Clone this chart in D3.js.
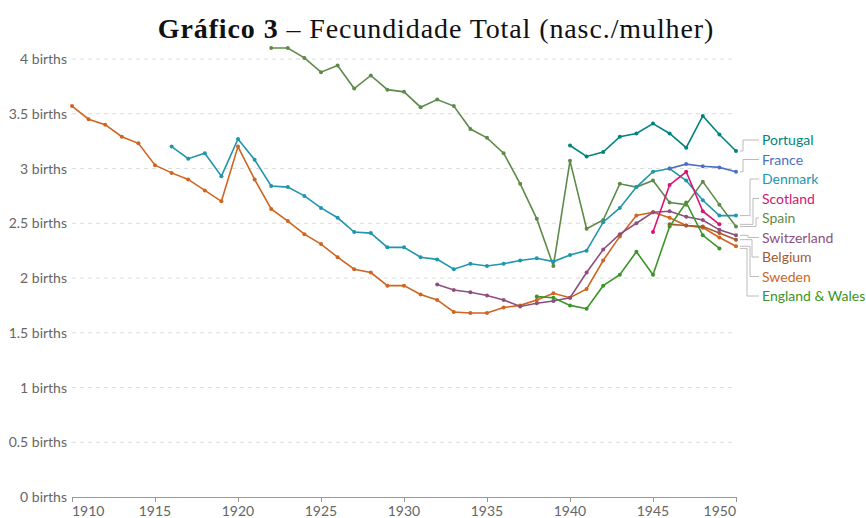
<!DOCTYPE html>
<html>
<head>
<meta charset="utf-8">
<script src="https://cdn.jsdelivr.net/npm/d3@7"></script>
<style>
  body { margin: 0; background: #fff; }
  text { font-family: Lato, "Open Sans", sans-serif; }
</style>
</head>
<body>
<script>
// values (children per woman)
var portugalYears = [1940,1941,1942,1943,1944,1945,1946,1947,1948,1949,1950];
var portugalVals  = [3.21,3.11,3.15,3.29,3.32,3.41,3.32,3.19,3.48,3.31,3.16];

var franceYears = [1946,1947,1948,1949,1950];
var franceVals  = [3.00,3.04,3.02,3.01,2.97];

var denmarkYears = d3.range(1916, 1951);
var denmarkVals  = [3.20,3.09,3.14,2.93,3.27,3.08,2.84,2.83,2.75,2.64,2.55,2.42,2.41,2.28,2.28,
                    2.19,2.17,2.08,2.13,2.11,2.13,2.16,2.18,2.15,2.21,2.25,2.51,2.64,2.83,2.97,
                    3.00,2.89,2.71,2.57,2.57];

var scotlandYears = [1945,1946,1947,1948,1949];
var scotlandVals  = [2.42,2.85,2.97,2.61,2.49];

var spainYears = d3.range(1922, 1951);
var spainVals  = [4.10,4.10,4.01,3.88,3.94,3.73,3.85,3.72,3.70,3.56,3.63,3.57,3.36,3.28,3.14,
                  2.86,2.54,2.11,3.07,2.45,2.53,2.86,2.83,2.89,2.69,2.67,2.88,2.67,2.47];

var switzerlandYears = d3.range(1932, 1951);
var switzerlandVals  = [1.94,1.89,1.87,1.84,1.80,1.74,1.77,1.79,1.82,2.05,2.26,2.40,2.50,2.60,
                        2.61,2.56,2.53,2.44,2.39];

var belgiumYears = [1946,1947,1948,1949,1950];
var belgiumVals  = [2.49,2.48,2.47,2.41,2.35];

var swedenYears = d3.range(1910, 1951);
var swedenVals  = [3.57,3.45,3.40,3.29,3.23,3.03,2.96,2.90,2.80,2.70,3.20,2.90,2.63,2.52,2.40,
                   2.31,2.19,2.08,2.05,1.93,1.93,1.85,1.80,1.69,1.68,1.68,1.73,1.75,1.80,1.86,
                   1.82,1.90,2.16,2.38,2.57,2.60,2.55,2.48,2.46,2.37,2.29];

var englandYears = d3.range(1938, 1950);
var englandVals  = [1.83,1.82,1.75,1.72,1.93,2.03,2.24,2.03,2.47,2.69,2.39,2.27];

var countries = ["Portugal","France","Denmark","Scotland","Spain","Switzerland","Belgium","Sweden","England & Wales"];
var colors    = ["#00847e","#4c6fc4","#1f96ab","#d81472","#5f8a4a","#8c4f80","#a35a2e","#cf6520","#3a9528"];

var yTicks = [0,0.5,1,1.5,2,2.5,3,3.5,4];
var xTicks = [1910,1915,1920,1925,1930,1935,1940,1945,1950];

var series = [
  [portugalYears, portugalVals],
  [franceYears, franceVals],
  [denmarkYears, denmarkVals],
  [scotlandYears, scotlandVals],
  [spainYears, spainVals],
  [switzerlandYears, switzerlandVals],
  [belgiumYears, belgiumVals],
  [swedenYears, swedenVals],
  [englandYears, englandVals]
].map(function(s, i) {
  return {
    name: countries[i],
    color: colors[i],
    values: s[0].map(function(y, j) { return {year: y, v: s[1][j]}; })
  };
});

var W = 866, H = 518;
var svg = d3.select("body").append("svg").attr("width", W).attr("height", H);

var xScale = d3.scaleLinear().domain([1910, 1950]).range([72, 736]);
var yScale = d3.scaleLinear().domain([0, 4]).range([497, 59]);

// title
var title = svg.append("text")
  .attr("x", 436).attr("y", 38)
  .attr("text-anchor", "middle")
  .style("font-family", "'Liberation Serif', 'DejaVu Serif', serif")
  .style("font-size", "28px")
  .style("letter-spacing", "0.9px")
  .attr("fill", "#111");
title.append("tspan").style("font-weight", "bold").text("Gráfico 3");
title.append("tspan").text(" – Fecundidade Total (nasc./mulher)");

// gridlines + y labels
svg.selectAll(".grid").data(yTicks.filter(function(d) { return d > 0; })).enter()
  .append("line")
  .attr("x1", 72).attr("x2", 736)
  .attr("y1", function(d) { return yScale(d); })
  .attr("y2", function(d) { return yScale(d); })
  .attr("stroke", "#dcdcdc")
  .attr("stroke-dasharray", "4,4");

svg.selectAll(".ylab").data(yTicks).enter()
  .append("text")
  .attr("x", 67)
  .attr("y", function(d) { return yScale(d) + 5; })
  .attr("text-anchor", "end")
  .attr("fill", "#666")
  .style("font-size", "14px")
  .text(function(d) { return d + " births"; });

// x axis
svg.append("line")
  .attr("x1", 72).attr("x2", 737)
  .attr("y1", 497.5).attr("y2", 497.5)
  .attr("stroke", "#999");

svg.selectAll(".xtick").data(xTicks).enter()
  .append("line")
  .attr("x1", function(d) { return xScale(d) + 0.5; })
  .attr("x2", function(d) { return xScale(d) + 0.5; })
  .attr("y1", 497).attr("y2", 502)
  .attr("stroke", "#999");

svg.selectAll(".xlab").data(xTicks).enter()
  .append("text")
  .attr("x", function(d) { return xScale(d); })
  .attr("y", 516)
  .attr("text-anchor", function(d, i) { return i === 0 ? "start" : (i === xTicks.length - 1 ? "end" : "middle"); })
  .attr("fill", "#666")
  .style("font-size", "14px")
  .text(function(d) { return d; });

// lines
var line = d3.line()
  .x(function(d) { return xScale(d.year); })
  .y(function(d) { return yScale(d.v); });

// draw in back-to-front order
var drawOrder = [7, 6, 5, 8, 4, 2, 1, 3, 0];
drawOrder.forEach(function(i) {
  var s = series[i];
  var g = svg.append("g");
  g.append("path")
    .attr("d", line(s.values))
    .attr("fill", "none")
    .attr("stroke", s.color)
    .attr("stroke-width", 1.6);
  g.selectAll("circle").data(s.values).enter()
    .append("circle")
    .attr("cx", function(d) { return xScale(d.year); })
    .attr("cy", function(d) { return yScale(d.v); })
    .attr("r", 2)
    .attr("fill", s.color);
});

// legend labels with connectors
var labelX = 762, labelY0 = 140, labelStep = 19.5;
var stepX = [743, 743, 750, 753, 756, 748, 752, 750, 747];
series.forEach(function(s, i) {
  var last = s.values[s.values.length - 1];
  var ly = labelY0 + i * labelStep;
  var ey = yScale(last.v);
  var sx = xScale(1950) + 4;
  svg.append("path")
    .attr("d", "M" + sx + "," + ey + "H" + stepX[i] + "V" + ly + "H" + (labelX - 3))
    .attr("fill", "none")
    .attr("stroke", "#bbb")
    .attr("stroke-width", 1);
  svg.append("text")
    .attr("x", labelX).attr("y", ly + 5)
    .attr("fill", s.color)
    .style("font-size", "14px")
    .text(s.name);
});
</script>
</body>
</html>
